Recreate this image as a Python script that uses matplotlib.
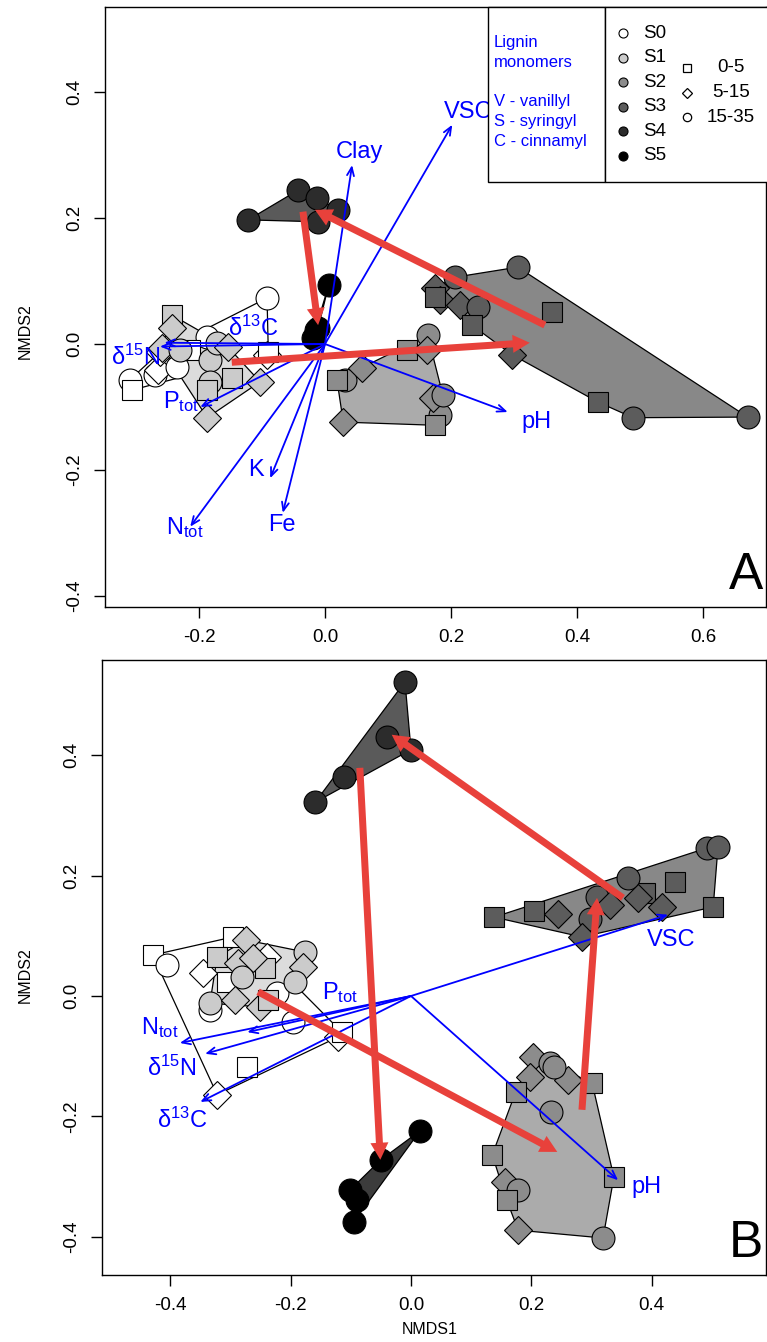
import numpy as np
import matplotlib.pyplot as plt
from matplotlib.patches import Polygon, Rectangle
from matplotlib.lines import Line2D

plt.rcParams['font.family'] = ['Liberation Sans', 'DejaVu Sans']
plt.rcParams['mathtext.fontset'] = 'custom'
plt.rcParams['mathtext.rm'] = 'Liberation Sans'
plt.rcParams['mathtext.it'] = 'Liberation Sans:italic'
plt.rcParams['axes.unicode_minus'] = False

sites = ['S0', 'S1', 'S2', 'S3', 'S4', 'S5']
depths = ['0-5', '5-15', '15-35']
pt_cols = ['#ffffff', '#cbcbcb', '#8c8c8c', '#5c5c5c', '#2c2c2c', '#000000']
hull_cols = ['#ffffff', '#dcdcdc', '#ababab', '#888888', '#5a5a5a', '#3c3c3c']
markers = ['s', 'D', 'o']   # depth 0-5, 5-15, 15-35
red = '#e8413b'

# --- panel A: NMDS scores (site index, depth index) ---
a_x = [-0.310, -0.306, -0.270, -0.265, -0.235, -0.187, -0.092, -0.092, -0.090, -0.214, -0.262,
       -0.243, -0.243, -0.259, -0.230, -0.183, -0.183, -0.171, -0.148, -0.154, -0.187, -0.103, -0.187,
       0.032, 0.019, 0.059, 0.130, 0.163, 0.162, 0.029, 0.183, 0.175, 0.171, 0.187,
       0.306, 0.175, 0.206, 0.183, 0.214, 0.243, 0.233, 0.360, 0.297, 0.433, 0.489, 0.671, 0.175,
       -0.122, -0.043, -0.013, 0.021, -0.011,
       0.006, -0.014, -0.019, -0.011]
a_y = [-0.057, -0.073, -0.049, -0.041, -0.037, 0.011, 0.073, -0.017, -0.012, -0.010, -0.013,
       0.046, 0.025, -0.006, -0.010, -0.025, -0.060, 0.002, -0.054, -0.005, -0.117, -0.060, -0.073,
       -0.057, -0.057, -0.038, -0.010, 0.014, -0.010, -0.124, -0.113, -0.129, -0.086, -0.081,
       0.122, 0.089, 0.106, 0.070, 0.062, 0.059, 0.030, 0.051, -0.017, -0.092, -0.117, -0.116, 0.075,
       0.197, 0.244, 0.232, 0.213, 0.194,
       0.094, 0.022, 0.010, 0.025]
a_site = [0] * 11 + [1] * 12 + [2] * 11 + [3] * 13 + [4] * 5 + [5] * 4
a_depth = [2, 0, 2, 1, 2, 2, 2, 1, 0, 0, 1,
           0, 1, 1, 2, 2, 2, 2, 0, 1, 1, 1, 0,
           2, 0, 1, 0, 2, 1, 1, 2, 0, 1, 2,
           2, 1, 2, 1, 1, 2, 0, 0, 1, 0, 2, 2, 0,
           2, 2, 2, 2, 2,
           2, 2, 2, 2]

# centroid trajectories (from, to)
a_traj_x0 = [-0.148, 0.349, -0.035]
a_traj_y0 = [-0.029, 0.030, 0.210]
a_traj_x1 = [0.325, -0.016, -0.011]
a_traj_y1 = [0.002, 0.213, 0.030]

# fitted environmental vectors
a_vec_lab = ['VSC', 'Clay', 'pH', 'K', 'Fe', r'N$_{\rm tot}$', r'P$_{\rm tot}$',
             'δ$^{15}$N', 'δ$^{13}$C']
a_vec_x = [0.202, 0.043, 0.290, -0.087, -0.067, -0.214, -0.198, -0.262, -0.255]
a_vec_y = [0.348, 0.284, -0.108, -0.213, -0.268, -0.290, -0.100, -0.004, 0.002]
a_lab_x = [0.227, 0.055, 0.335, -0.110, -0.068, -0.222, -0.228, -0.300, -0.114]
a_lab_y = [0.368, 0.305, -0.124, -0.200, -0.287, -0.292, -0.092, -0.021, 0.025]

# --- panel B ---
b_x = [-0.429, -0.405, -0.296, -0.346, -0.334, -0.196, -0.121, -0.115, -0.272, -0.322, -0.223, -0.306, -0.239,
       -0.322, -0.274, -0.287, -0.281, -0.243, -0.176, -0.179, -0.193, -0.334, -0.292, -0.251, -0.238, -0.262,
       0.203, 0.231, 0.198, 0.261, 0.301, 0.174, 0.233, 0.135, 0.337, 0.156, 0.178, 0.159, 0.178, 0.319, 0.238,
       0.138, 0.204, 0.244, 0.309, 0.297, 0.284, 0.331, 0.389, 0.360, 0.439, 0.377, 0.417, 0.492, 0.510, 0.502,
       -0.010, -0.040, 0.000, -0.111, -0.159,
       0.015, -0.050, -0.101, -0.090, -0.095]
b_y = [0.068, 0.051, 0.098, 0.038, -0.023, -0.043, -0.068, -0.060, -0.118, -0.164, 0.005, 0.023, 0.065,
       0.065, 0.093, 0.055, 0.032, 0.047, 0.073, 0.048, 0.023, -0.012, -0.007, -0.018, -0.007, 0.063,
       -0.101, -0.111, -0.135, -0.140, -0.145, -0.159, -0.193, -0.264, -0.301, -0.309, -0.322, -0.339, -0.389,
       -0.402, -0.118,
       0.131, 0.141, 0.136, 0.164, 0.128, 0.098, 0.151, 0.171, 0.196, 0.189, 0.163, 0.148, 0.246, 0.248, 0.148,
       0.522, 0.430, 0.409, 0.364, 0.322,
       -0.224, -0.272, -0.322, -0.339, -0.375]
b_site = [0] * 13 + [1] * 13 + [2] * 15 + [3] * 15 + [4] * 5 + [5] * 5
b_depth = [0, 2, 0, 1, 2, 2, 1, 0, 0, 1, 2, 0, 1,
           0, 1, 1, 2, 0, 2, 1, 2, 2, 1, 1, 0, 1,
           1, 2, 1, 1, 0, 0, 2, 0, 0, 1, 2, 0, 1, 2, 2,
           0, 0, 1, 2, 2, 1, 1, 0, 2, 0, 1, 1, 2, 2, 0,
           2, 2, 2, 2, 2,
           2, 2, 2, 2, 2]

b_traj_x0 = [-0.085, -0.254, 0.284, 0.352]
b_traj_y0 = [0.379, 0.007, -0.189, 0.163]
b_traj_x1 = [-0.051, 0.243, 0.309, -0.032]
b_traj_y1 = [-0.272, -0.259, 0.163, 0.434]

b_vec_lab = ['VSC', 'pH', r'N$_{\rm tot}$', 'δ$^{15}$N', 'δ$^{13}$C', r'P$_{\rm tot}$']
b_vec_x = [0.427, 0.344, -0.384, -0.342, -0.350, -0.272]
b_vec_y = [0.135, -0.306, -0.078, -0.096, -0.176, -0.060]
b_lab_x = [0.432, 0.392, -0.417, -0.397, -0.380, -0.118]
b_lab_y = [0.093, -0.317, -0.053, -0.120, -0.206, 0.005]


def convex_hull(px, py):
    pts = sorted(set(zip(px, py)))
    if len(pts) < 3:
        return pts

    def cross(o, a, b):
        return (a[0] - o[0]) * (b[1] - o[1]) - (a[1] - o[1]) * (b[0] - o[0])

    lower, upper = [], []
    for p in pts:
        while len(lower) >= 2 and cross(lower[-2], lower[-1], p) <= 0:
            lower.pop()
        lower.append(p)
    for p in reversed(pts):
        while len(upper) >= 2 and cross(upper[-2], upper[-1], p) <= 0:
            upper.pop()
        upper.append(p)
    return lower[:-1] + upper[:-1]


def draw_panel(ax, xs, ys, site, depth, traj, vecs, letter, px_per_unit):
    xs, ys = np.array(xs), np.array(ys)
    site, depth = np.array(site), np.array(depth)
    for k in range(6):
        m = site == k
        h = convex_hull(xs[m], ys[m])
        ax.add_patch(Polygon(h, closed=True, fc=hull_cols[k], ec='black', lw=0.9, zorder=1))
    for i in range(len(xs)):
        ax.plot(xs[i], ys[i], ls='none', marker=markers[depth[i]],
                ms=16.5 if depth[i] == 2 else 14.7,
                mfc=pt_cols[site[i]], mec='black', mew=0.8, zorder=2)

    labs, vx, vy, lx, ly = vecs
    for i in range(len(labs)):
        ax.annotate('', xy=(vx[i], vy[i]), xytext=(0, 0),
                    arrowprops=dict(arrowstyle='->,head_length=0.6,head_width=0.25',
                                    color='#0000ff', lw=1.3, shrinkA=0, shrinkB=0),
                    zorder=3)
        ax.text(lx[i], ly[i], labs[i], color='#0000ff', fontsize=17,
                ha='center', va='center', zorder=3)

    x0, y0, x1, y1 = traj
    for i in range(len(x0)):
        ax.arrow(x0[i], y0[i], x1[i] - x0[i], y1[i] - y0[i],
                 width=7 / px_per_unit, head_width=18 / px_per_unit,
                 head_length=17 / px_per_unit, length_includes_head=True,
                 fc=red, ec='none', zorder=4)

    ax.text(0.995, 0.012, letter, transform=ax.transAxes, ha='right', va='bottom',
            fontsize=37)
    for s in ax.spines.values():
        s.set_linewidth(1.0)
    ax.tick_params(direction='out', length=8, width=1, labelsize=13.5, pad=8)
    for t in ax.get_yticklabels():
        t.set_rotation(90)
        t.set_va('center')


fig = plt.figure(figsize=(7.67, 13.42), dpi=100)
W, H = 767, 1342

# panel A
axA = fig.add_axes([105 / W, 1 - 607 / H, 661 / W, 600 / H])
axA.set_xlim((105 - 325) / 630, (766 - 325) / 630)
axA.set_ylim((344 - 607) / 630, (344 - 7) / 630)
axA.set_xticks([-0.2, 0.0, 0.2, 0.4, 0.6])
axA.set_xticklabels(['-0.2', '0.0', '0.2', '0.4', '0.6'])
axA.set_yticks([-0.4, -0.2, 0.0, 0.2, 0.4])
axA.set_yticklabels(['-0.4', '-0.2', '0.0', '0.2', '0.4'])
draw_panel(axA, a_x, a_y, a_site, a_depth,
           (a_traj_x0, a_traj_y0, a_traj_x1, a_traj_y1),
           (a_vec_lab, a_vec_x, a_vec_y, a_lab_x, a_lab_y), 'A', 630)

# panel B
axB = fig.add_axes([102 / W, 1 - 1275 / H, 664 / W, 615 / H])
axB.set_xlim((102 - 411) / 602, (766 - 411) / 602)
axB.set_ylim((996 - 1275) / 602, (996 - 660) / 602)
axB.set_xticks([-0.4, -0.2, 0.0, 0.2, 0.4])
axB.set_xticklabels(['-0.4', '-0.2', '0.0', '0.2', '0.4'])
axB.set_yticks([-0.4, -0.2, 0.0, 0.2, 0.4])
axB.set_yticklabels(['-0.4', '-0.2', '0.0', '0.2', '0.4'])
draw_panel(axB, b_x, b_y, b_site, b_depth,
           (b_traj_x0, b_traj_y0, b_traj_x1, b_traj_y1),
           (b_vec_lab, b_vec_x, b_vec_y, b_lab_x, b_lab_y), 'B', 602)

fig.text(25 / W, 1 - 331 / H, 'NMDS2', rotation=90, ha='center', va='center', fontsize=11.5)
fig.text(25 / W, 1 - 975 / H, 'NMDS2', rotation=90, ha='center', va='center', fontsize=11.5)
fig.text(430 / W, 1 - 1330 / H, 'NMDS1', ha='center', va='center', fontsize=11.5)

# legend boxes
fig.add_artist(Rectangle((488 / W, 1 - 182 / H), 117 / W, 175 / H, transform=fig.transFigure,
                         fc='white', ec='black', lw=1, zorder=5))
fig.add_artist(Rectangle((605 / W, 1 - 182 / H), 170 / W, 175 / H, transform=fig.transFigure,
                         fc='white', ec='black', lw=1, zorder=5))
fig.text(494 / W, 1 - 35 / H, 'Lignin\nmonomers\n\nV - vanillyl\nS - syringyl\nC - cinnamyl',
         color='#0000ff', fontsize=12, ha='left', va='top', linespacing=1.4, zorder=6)
for k, s in enumerate(sites):
    yy = 1 - (33 + 24.6 * k) / H
    fig.add_artist(Line2D([623 / W], [yy], transform=fig.transFigure, ls='none', marker='o',
                          ms=6.5, mfc=pt_cols[k], mec='black', mew=0.8, zorder=6))
    fig.text(643 / W, yy, s, fontsize=13.5, ha='left', va='center', zorder=6)
for d, lab in enumerate(depths):
    yy = 1 - (68 + 24.5 * d) / H
    fig.add_artist(Line2D([687 / W], [yy], transform=fig.transFigure, ls='none', marker=markers[d],
                          ms=6 if d != 1 else 5.5, mfc='white', mec='black', mew=0.9, zorder=6))
    fig.text(731 / W, yy, lab, fontsize=13.5, ha='center', va='center', zorder=6)

fig.savefig('out.png', dpi=100)
